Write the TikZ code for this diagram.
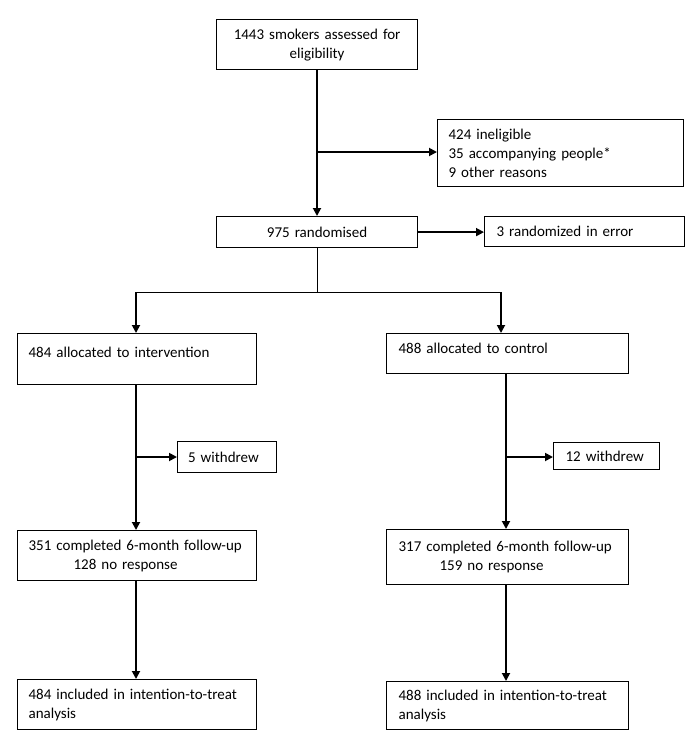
\documentclass[tikz,border=0pt]{standalone}
\usepackage{fontspec}
\setmainfont{Carlito}
\usetikzlibrary{arrows.meta}
\tikzset{
  box/.style={draw, line width=1.2pt, rectangle, anchor=north west, inner xsep=11pt, inner ysep=0pt, font=\fontsize{15}{19}\selectfont},
  arr/.style={-{Triangle[length=8pt,width=8pt]}, line width=1.8pt},
  thinline/.style={line width=0.9pt}
}
\begin{document}
\begin{tikzpicture}[x=1pt,y=-1pt]
\useasboundingbox (0,0) rectangle (700,747);
% top part
\node[box, minimum width=201pt, minimum height=50pt, text width=179pt, align=center] (assess) at (216,19) {1443 smokers assessed for\\eligibility};
\node[box, minimum width=246pt, minimum height=67pt, text width=224pt, align=left] (inelig) at (437,119) {424 ineligible\\35 accompanying people*\\9 other reasons};
\node[box, minimum width=201pt, minimum height=31pt, text width=179pt, align=center] (rand) at (216,216) {975 randomised};
\node[box, minimum width=199pt, minimum height=30pt, text width=176pt, align=left, inner xsep=12pt] (error) at (484,216) {3 randomized in error};
% intervention arm
\node[box, minimum width=239pt, minimum height=51pt, text width=217pt, align=left, text height=10pt, text depth=14pt] (allocI) at (17,333) {484 allocated to intervention};
\node[box, minimum width=99pt, minimum height=31pt, text width=78pt, align=left, inner xsep=10pt] (wdrI) at (177,441) {5 withdrew};
\node[box, minimum width=239pt, minimum height=50pt, text width=217pt, align=left] (complI) at (17,530) {351 completed 6-month follow-up\\\hspace*{45pt}128 no response};
\node[box, minimum width=239pt, minimum height=50pt, text width=217pt, align=left] (ittI) at (17,679) {484 included in intention-to-treat\\analysis};
% control arm
\node[box, minimum width=240pt, minimum height=40pt, text width=218pt, align=left, inner xsep=12pt, text height=10pt, text depth=10pt] (allocC) at (386,333) {488 allocated to control};
\node[box, minimum width=105pt, minimum height=27pt, text width=82pt, align=left, inner xsep=12pt] (wdrC) at (553,442) {12 withdrew};
\node[box, minimum width=240pt, minimum height=55pt, text width=218pt, align=left, inner xsep=12pt] (complC) at (386,529) {317 completed 6-month follow-up\\\hspace*{41pt}159 no response};
\node[box, minimum width=240pt, minimum height=48pt, text width=218pt, align=left, inner xsep=12pt] (ittC) at (386,681) {488 included in intention-to-treat\\analysis};
% split points
\coordinate (excl) at (317,152);
\coordinate (split) at (317,292);
\coordinate (lsplit) at (136,292);
\coordinate (rsplit) at (501,292);
\coordinate (wI) at (136,457);
\coordinate (wC) at (506,457);
% connectors
\draw[arr] (excl |- assess.south) -- (excl |- rand.north);
\draw[arr] (excl) -- (excl -| inelig.west);
\draw[arr] (rand.east) -- (rand.east -| error.west);
\draw[thinline] (split |- rand.south) -- (split);
\draw[thinline] (lsplit) -- (rsplit);
\draw[arr] (lsplit) -- (lsplit |- allocI.north);
\draw[arr] (rsplit) -- (rsplit |- allocC.north);
\draw[arr] (wI |- allocI.south) -- (wI |- complI.north);
\draw[arr] (wI) -- (wI -| wdrI.west);
\draw[arr] (wC |- allocC.south) -- (wC |- complC.north);
\draw[arr] (wC) -- (wC -| wdrC.west);
\draw[arr] (wI |- complI.south) -- (wI |- ittI.north);
\draw[arr] (wC |- complC.south) -- (wC |- ittC.north);
\end{tikzpicture}
\end{document}
